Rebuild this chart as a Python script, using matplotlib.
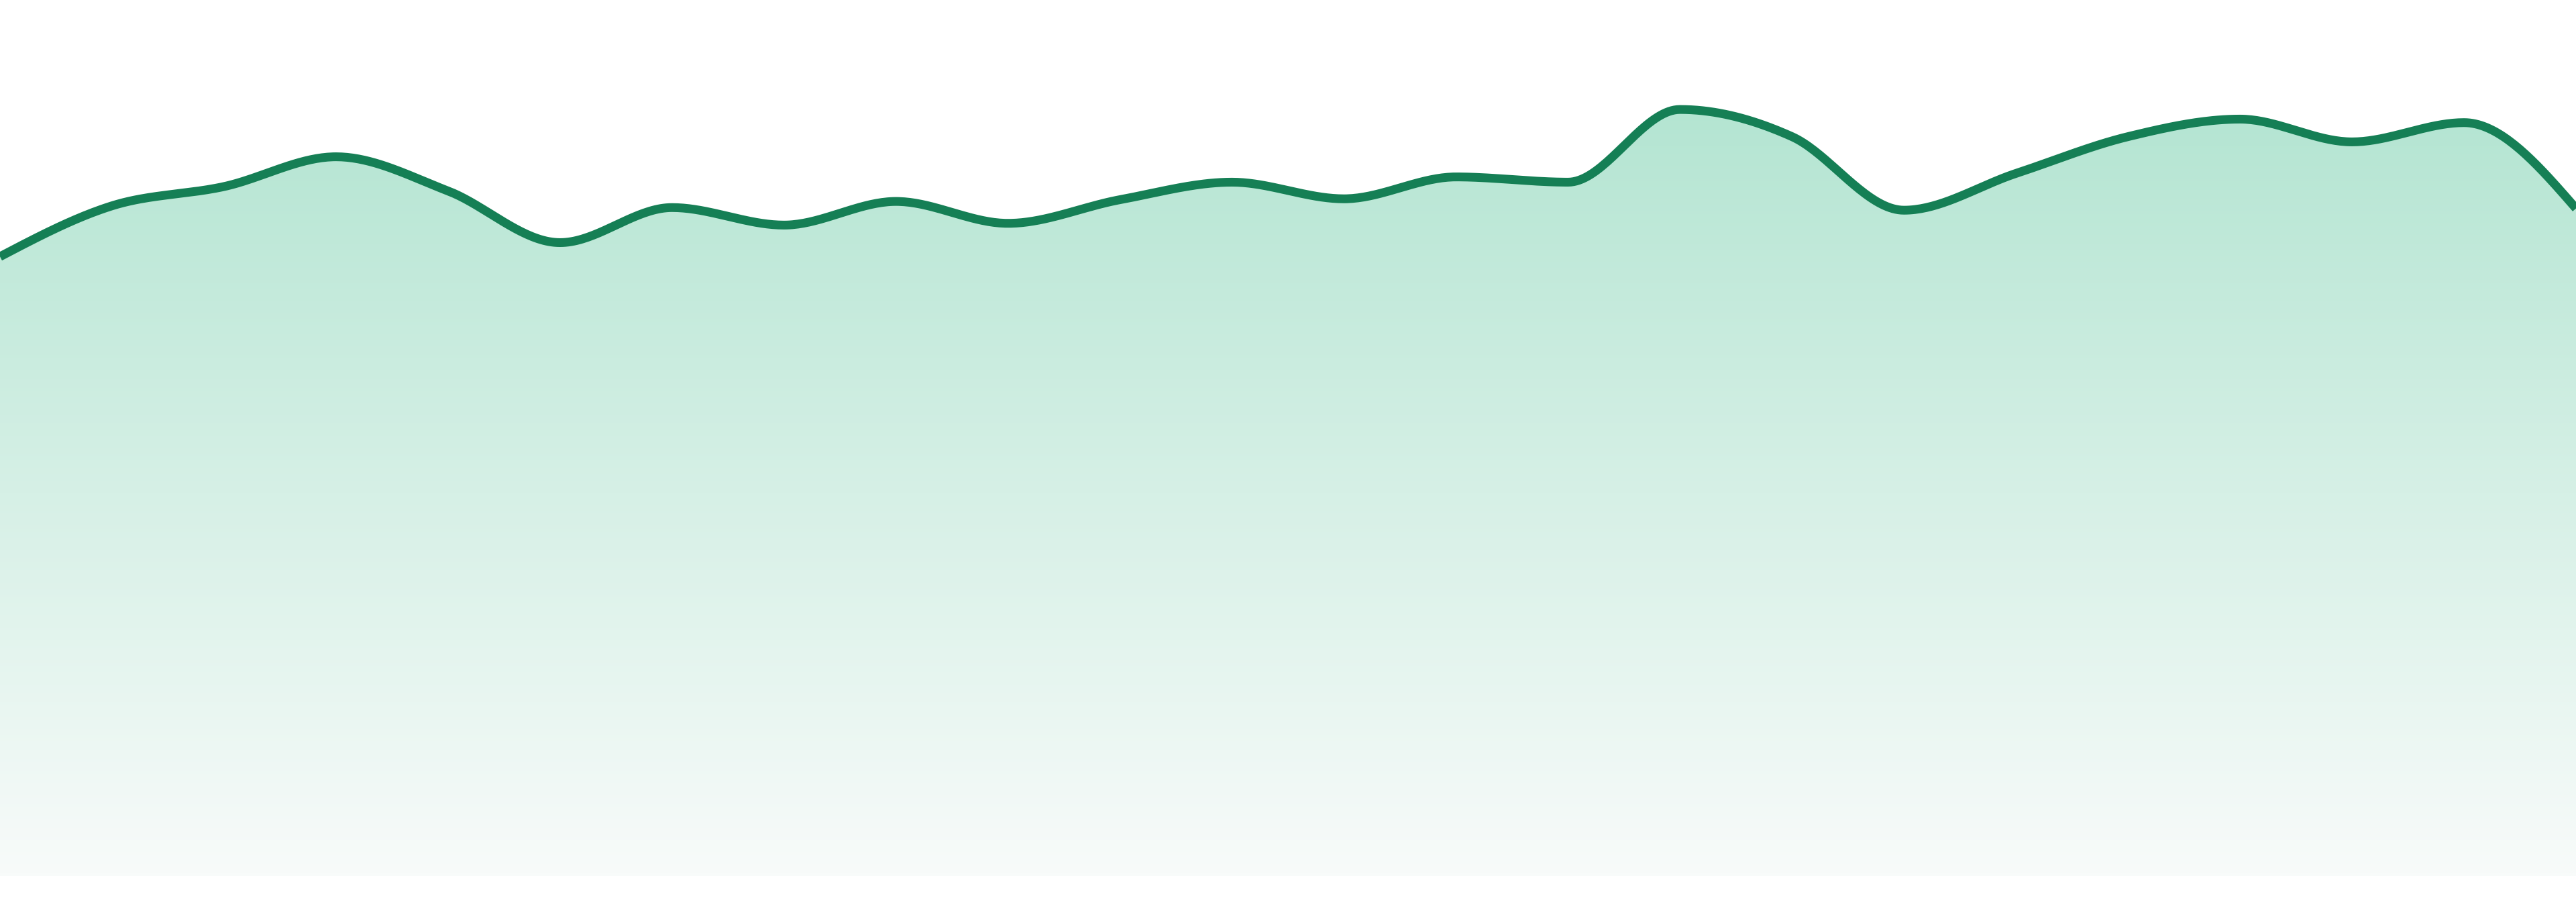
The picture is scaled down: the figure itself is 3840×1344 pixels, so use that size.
import numpy as np
import matplotlib.pyplot as plt
from matplotlib.colors import LinearSegmentedColormap

# one point per step (0 = bottom of the fill)
steps = list(range(24))
values = [70.7, 76.5, 78.7, 82.1, 78.2, 72.3, 76.3, 74.3, 77.0, 74.5, 77.2, 79.2,
          77.3, 79.8, 79.2, 87.5, 84.4, 76.0, 80.2, 84.4, 86.4, 83.8, 86.0, 76.2]

line_color = '#157f55'
fill_top = '#b4e5d2'
fill_bottom = '#f8fbfa'


def monotone_curve(x, y, n=40):
    # monotone cubic (like d3 curveMonotoneX)
    x = np.asarray(x, float)
    y = np.asarray(y, float)
    h = np.diff(x)
    s = np.diff(y) / h
    t = np.zeros_like(y)
    for i in range(1, len(y) - 1):
        p = (s[i - 1] * h[i] + s[i] * h[i - 1]) / (h[i - 1] + h[i])
        t[i] = (np.sign(s[i - 1]) + np.sign(s[i])) * min(abs(s[i - 1]), abs(s[i]), 0.5 * abs(p))
    t[0] = (3 * s[0] - t[1]) / 2
    t[-1] = (3 * s[-1] - t[-2]) / 2
    xs, ys = [], []
    for i in range(len(h)):
        u = np.linspace(0, 1, n, endpoint=False)
        h00 = 2 * u**3 - 3 * u**2 + 1
        h10 = u**3 - 2 * u**2 + u
        h01 = -2 * u**3 + 3 * u**2
        h11 = u**3 - u**2
        xs.append(x[i] + u * h[i])
        ys.append(h00 * y[i] + h10 * h[i] * t[i] + h01 * y[i + 1] + h11 * h[i] * t[i + 1])
    xs.append([x[-1]])
    ys.append([y[-1]])
    return np.concatenate(xs), np.concatenate(ys)


xs, ys = monotone_curve(steps, values)

fig = plt.figure(figsize=(38.4, 13.44), dpi=100)
ax = fig.add_axes([0, 39 / 1344, 1, 1305 / 1344])
ax.set_xlim(0, 23)
ax.set_ylim(0, 100)
ax.axis('off')

# gradient fill clipped to the area under the curve
cmap = LinearSegmentedColormap.from_list('g', [fill_bottom, fill_top])
grad = np.linspace(0, 1, 256).reshape(-1, 1)
top = ys.max()
img = ax.imshow(grad, cmap=cmap, aspect='auto', origin='lower',
                extent=[0, 23, 0, top], zorder=1)
poly = ax.fill_between(xs, ys, 0, color='none', lw=0)
img.set_clip_path(poly.get_paths()[0], transform=ax.transData)

ax.plot(xs, ys, color=line_color, lw=9.4, solid_capstyle='butt', zorder=3)

fig.savefig('out.png', dpi=100)
